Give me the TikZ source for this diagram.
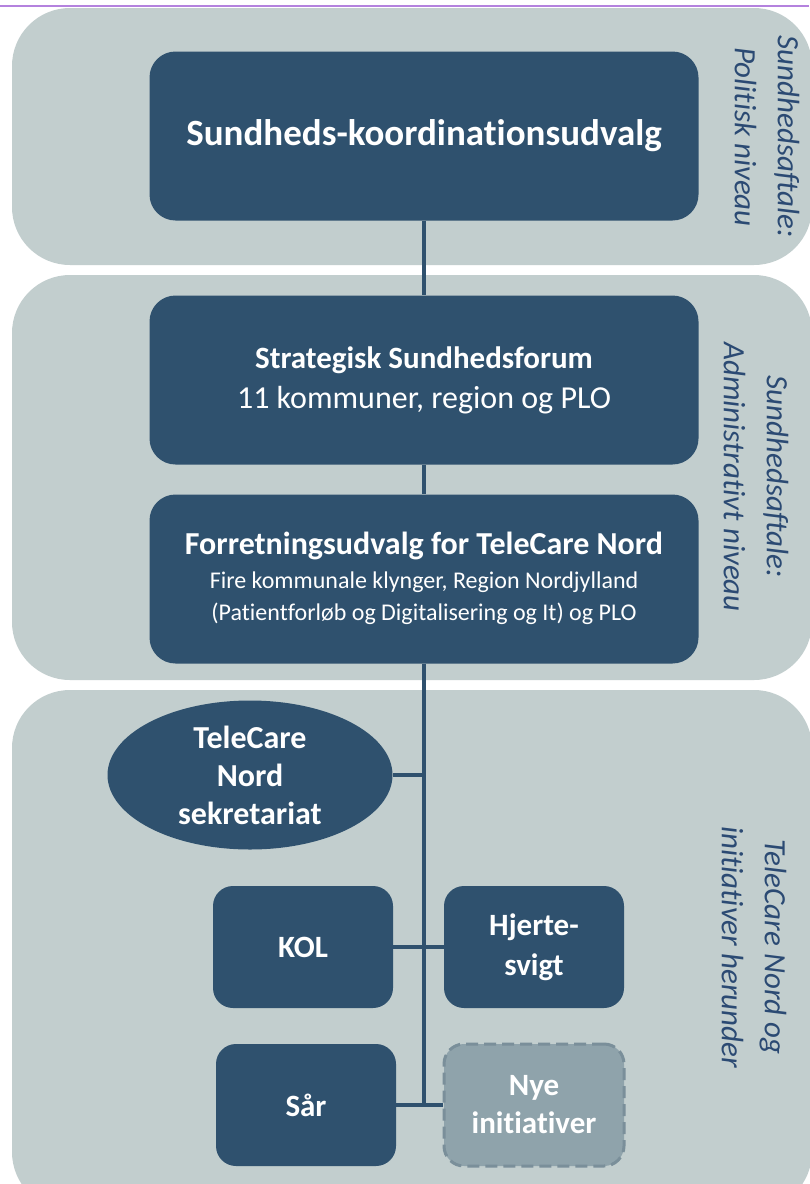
\documentclass[tikz,border=0pt]{standalone}
\usepackage{fontspec}
\setmainfont{Carlito}[Ligatures = {NoCommon, NoContextual}]
\usetikzlibrary{shapes.geometric}

\definecolor{boxblue}{RGB}{47,81,110}
\definecolor{bandgrey}{RGB}{194,206,206}
\definecolor{newgrey}{RGB}{143,163,171}
\definecolor{newedge}{RGB}{122,143,154}
\definecolor{labelblue}{RGB}{43,74,115}
\definecolor{topline}{RGB}{180,130,222}

\tikzset{
	band/.style = {fill = bandgrey, rounded corners = 58pt},
	orgbox/.style = {fill = boxblue, rounded corners = 26pt, text = white, align = center,
		minimum width = 549pt, minimum height = 169pt, inner sep = 0pt},
	smallbox/.style = {fill = boxblue, rounded corners = 20pt, text = white, align = center,
		minimum width = 180pt, minimum height = 122pt, inner sep = 0pt,
		font = \fontsize{31}{40}\selectfont\bfseries},
	newbox/.style = {smallbox, fill = newgrey, draw = newedge, line width = 3pt,
		dash pattern = on 12pt off 6pt},
	levellabel/.style = {rotate = -90, align = center, text = labelblue,
		font = \fontsize{31}{43}\selectfont\itshape},
	link/.style = {draw = boxblue, line width = 4.5pt},
}

\begin{document}
\begin{tikzpicture}[x = 1pt, y = -1pt]

	\def\trunk{424}

	\useasboundingbox (0,0) rectangle (809,1184);
	\fill[white] (0,0) rectangle (809,1184);
	\draw[topline, line width = 2pt] (0,6) -- (809,6);

	% niveauer
	\fill[band] (12,8) rectangle (812,265);
	\fill[band] (12,275) rectangle (812,680);
	\fill[band] (12,690) rectangle (812,1210);

	\node[levellabel] (politisk) at (767,137) {Sundhedsaftale:\\Politisk niveau};
	\node[levellabel] (admin) at (756,477) {Sundhedsaftale:\\Administrativt niveau};
	\node[levellabel] (telecare) at (754,947) {TeleCare Nord og\\initiativer herunder};

	% organisation
	\node[orgbox, font = \fontsize{37}{40}\selectfont\bfseries] (koord) at (\trunk,136)
		{Sundheds-koordinationsudvalg};
	\node[orgbox, font = \fontsize{32}{40}\selectfont] (forum) at (\trunk,380)
		{{\fontsize{31}{40}\selectfont\bfseries Strategisk Sundhedsforum}\\11 kommuner, region og PLO};
	\node[orgbox, font = \fontsize{24}{32}\selectfont, text depth = 6pt] (forret) at (\trunk,579)
		{{\fontsize{32}{36}\selectfont\bfseries Forretningsudvalg for TeleCare Nord}\\[2pt]
		Fire kommunale klynger, Region Nordjylland\\
		(Patientforløb og Digitalisering og It) og PLO};

	\node[ellipse, fill = boxblue, text = white, align = center, inner sep = 0pt,
		minimum width = 285pt, minimum height = 149pt,
		font = \fontsize{32}{38}\selectfont\bfseries] (sekr) at (250,775)
		{TeleCare\\Nord\\sekretariat};

	\node[smallbox] (kol) at (303,947) {KOL};
	\node[smallbox] (hjerte) at (534,947) {Hjerte-\\svigt};
	\node[smallbox] (saar) at (306,1105) {Sår};
	\node[newbox, font = \fontsize{31}{38}\selectfont\bfseries] (nye) at (534,1105) {Nye\\initiativer};

	\coordinate (bund) at (\trunk,1105);

	\draw[link] (koord) -- (forum);
	\draw[link] (forum) -- (forret);
	\draw[link] (forret) -- (bund);
	\draw[link] (sekr.east) -- (\trunk,775);
	\draw[link] (kol) -- (hjerte);
	\draw[link] (saar) -- (nye);

\end{tikzpicture}
\end{document}
